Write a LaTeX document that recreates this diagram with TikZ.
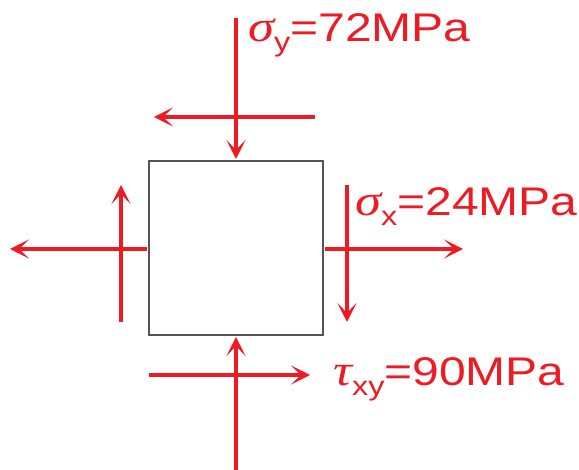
\documentclass[tikz,border=0pt]{standalone}
\usepackage{fontspec}
\setmainfont{Liberation Sans}
\newfontfamily\grk{Liberation Serif}
\usetikzlibrary{arrows.meta}
\definecolor{sred}{RGB}{237,28,36}
\definecolor{sgray}{RGB}{85,85,85}
\tikzset{
  force/.style={draw=sred, line width=4pt, -{Stealth[length=19pt,width=19pt,inset=10pt]}},
  lbl/.style={text=sred, anchor=base west, inner sep=0pt, font=\fontsize{40}{44}\selectfont},
  elem/.style={draw=sgray, line width=1.2pt, fill=white}
}
\newcommand{\stresslabel}[3]{\scalebox{1.2}[1]{{\grk\itshape\fontsize{44}{46}\selectfont #1}\raisebox{-0.25em}{\fontsize{27}{29}\selectfont #2}=#3}}
\begin{document}
\begin{tikzpicture}[x=1pt,y=-1pt]
\useasboundingbox (0,0) rectangle (579,470);
\fill[white] (0,0) rectangle (579,470);
% element
\node[elem, minimum width=174pt, minimum height=174pt, inner sep=0pt] (sq) at (236,248) {};
% coordinates
\coordinate (tA) at (236,18);
\coordinate (tB) at (236,159);
\coordinate (thA) at (315,117);
\coordinate (thB) at (154,117);
\coordinate (lA) at (147,249);
\coordinate (lB) at (10,249);
\coordinate (lvA) at (121,322);
\coordinate (lvB) at (121,185);
\coordinate (rA) at (325,249);
\coordinate (rB) at (463,249);
\coordinate (rvA) at (347,185);
\coordinate (rvB) at (347,322);
\coordinate (bA) at (236,470);
\coordinate (bB) at (236,337);
\coordinate (bhA) at (149,375);
\coordinate (bhB) at (310,375);
% forces
\draw[force] (tA) -- (tB);
\draw[force] (thA) -- (thB);
\draw[force] (lA) -- (lB);
\draw[force] (lvA) -- (lvB);
\draw[force] (rA) -- (rB);
\draw[force] (rvA) -- (rvB);
\draw[force] (bA) -- (bB);
\draw[force] (bhA) -- (bhB);
% labels
\node[lbl] (ly) at (248,42) {\stresslabel{σ}{y}{72MPa}};
\node[lbl] (lx) at (355,216) {\stresslabel{σ}{x}{24MPa}};
\node[lbl] (lt) at (333,386) {\stresslabel{τ}{xy}{90MPa}};
\end{tikzpicture}
\end{document}
